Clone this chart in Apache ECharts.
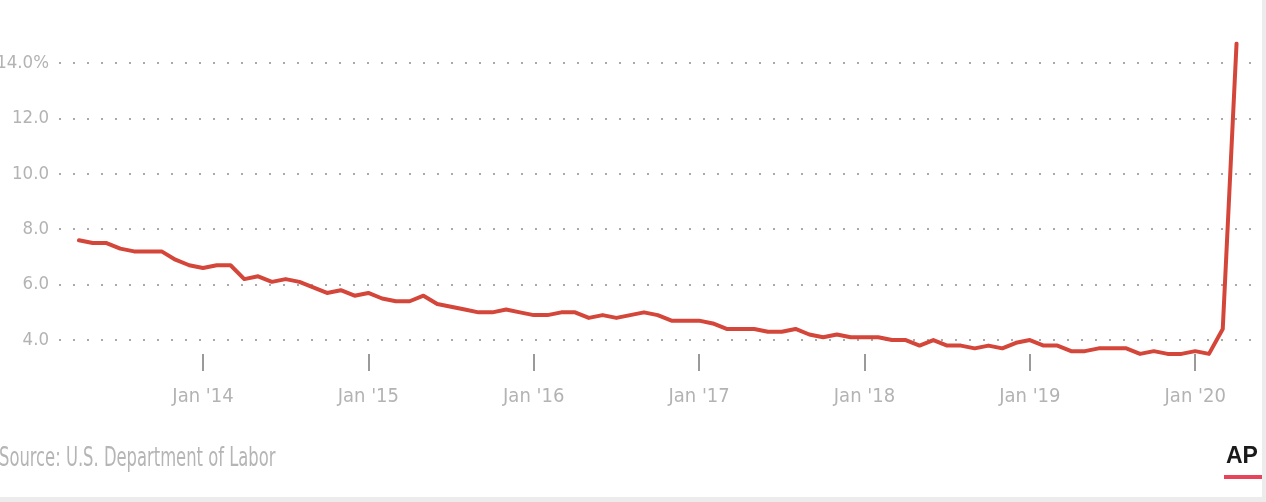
<!DOCTYPE html>
<html>
<head>
<meta charset="utf-8">
<script src="https://cdn.jsdelivr.net/npm/echarts@6/dist/echarts.min.js"></script>
<style>
html,body{margin:0;padding:0;background:#fff;}
#chart{width:1266px;height:502px;}
</style>
</head>
<body>
<div id="chart"></div>
<script>
// Monthly unemployment rate, Apr 2013 – Apr 2020 (month index: Jan 2013 = 0)
var startMonthIndex = 3;
var rates = [
  7.6, 7.5, 7.5, 7.3, 7.2, 7.2, 7.2, 6.9, 6.7,
  6.6, 6.7, 6.7, 6.2, 6.3, 6.1, 6.2, 6.1, 5.9, 5.7, 5.8, 5.6,
  5.7, 5.5, 5.4, 5.4, 5.6, 5.3, 5.2, 5.1, 5.0, 5.0, 5.1, 5.0,
  4.9, 4.9, 5.0, 5.0, 4.8, 4.9, 4.8, 4.9, 5.0, 4.9, 4.7, 4.7,
  4.7, 4.6, 4.4, 4.4, 4.4, 4.3, 4.3, 4.4, 4.2, 4.1, 4.2, 4.1,
  4.1, 4.1, 4.0, 4.0, 3.8, 4.0, 3.8, 3.8, 3.7, 3.8, 3.7, 3.9,
  4.0, 3.8, 3.8, 3.6, 3.6, 3.7, 3.7, 3.7, 3.5, 3.6, 3.5, 3.5,
  3.6, 3.5, 4.4, 14.7
];
var xTickMonths = [12, 24, 36, 48, 60, 72, 84];
var xTickLabels = ["Jan '14", "Jan '15", "Jan '16", "Jan '17", "Jan '18", "Jan '19", "Jan '20"];
var yTickValues = [4, 6, 8, 10, 12, 14];
var yTickLabels = ["4.0", "6.0", "8.0", "10.0", "12.0", "14.0%"];
var sourceText = "Source: U.S. Department of Labor";

var FONT = "'DejaVu Sans Condensed', 'Liberation Sans Narrow', 'Liberation Sans', sans-serif";
var seriesData = rates.map(function (v, i) { return [startMonthIndex + i, v]; });

var chart = echarts.init(document.getElementById('chart'), null, {renderer: 'canvas'});
chart.setOption({
  animation: false,
  backgroundColor: '#ffffff',
  grid: {left: 58, right: 15, top: 43.6, bottom: 148.1, containLabel: false, outerBoundsMode: 'none'},
  xAxis: {
    type: 'value',
    min: 1.48,
    max: 88.05,
    axisLine: {show: false},
    splitLine: {show: false},
    axisTick: {
      show: true, length: 17, customValues: xTickMonths,
      lineStyle: {color: '#9a9a9a', width: 2}
    },
    axisLabel: {
      customValues: xTickMonths,
      margin: 33,
      color: '#b3b3b3',
      fontFamily: FONT,
      fontSize: 20,
      formatter: function (v) {
        var i = xTickMonths.indexOf(Math.round(v));
        return i >= 0 ? xTickLabels[i] : '';
      }
    }
  },
  yAxis: {
    type: 'value',
    min: 3.5,
    max: 14.7,
    axisLine: {show: false},
    axisTick: {show: false, customValues: yTickValues},
    axisLabel: {
      customValues: yTickValues,
      margin: 9,
      color: '#b3b3b3',
      fontFamily: FONT,
      fontSize: 18.5,
      formatter: function (v) {
        var i = yTickValues.indexOf(Math.round(v));
        return i >= 0 ? yTickLabels[i] : '';
      }
    },
    splitLine: {
      show: true,
      lineStyle: {color: '#aaaaaa', width: 2, type: [2, 12], dashOffset: -1}
    }
  },
  series: [{
    type: 'line',
    data: seriesData,
    symbol: 'none',
    smooth: false,
    lineStyle: {color: '#d4463a', width: 4, cap: 'round', join: 'round'},
    z: 3
  }],
  graphic: [
    {type: 'rect', left: 1262, top: 0, shape: {width: 4, height: 502}, style: {fill: '#ececec'}, silent: true},
    {type: 'rect', left: 0, top: 497, shape: {width: 1266, height: 5}, style: {fill: '#ececec'}, silent: true},
    {type: 'text', x: -1, y: 446, scaleX: 0.7, style: {text: sourceText, fill: '#b5b5b5', font: '26px ' + FONT}},
    {type: 'text', left: 1226, top: 445, style: {text: 'AP', fill: '#1a1a1a', font: 'bold 23px "Liberation Sans", Arial, sans-serif'}},
    {type: 'rect', left: 1224, top: 475, shape: {width: 38, height: 4}, style: {fill: '#e8435a'}}
  ]
});
</script>
</body>
</html>
